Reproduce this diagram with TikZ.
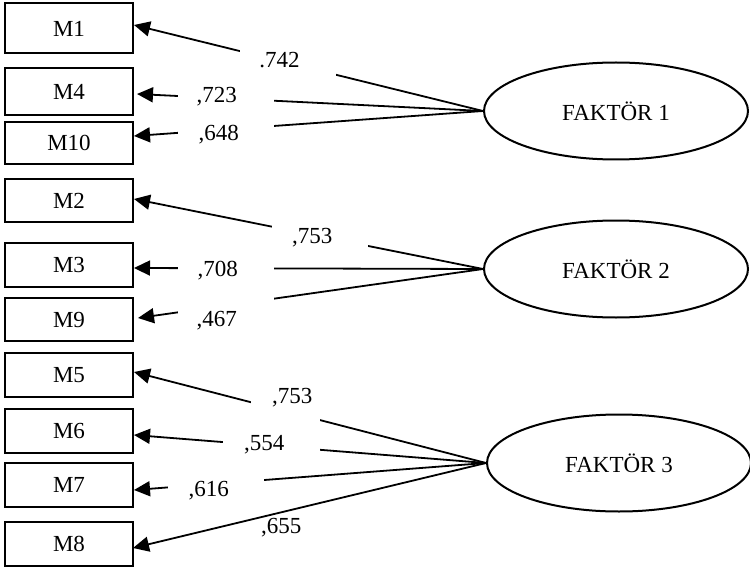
\documentclass[tikz,border=0pt]{standalone}
\usepackage{fontspec}
\setmainfont{Liberation Serif}
\usetikzlibrary{arrows.meta,shapes.geometric}
\begin{document}
\begin{tikzpicture}[x=0.5pt,y=-0.5pt,
  font=\fontsize{11.5}{13.8}\selectfont,
  box/.style={draw, line width=1pt, minimum width=64pt, minimum height=#1, inner sep=0pt},
  factor/.style={draw, ellipse, line width=1pt, minimum width=132pt, minimum height=48.5pt, inner sep=0pt},
  conn/.style={line width=0.9pt, -{Triangle[length=8pt,width=7.5pt]}},
  gap/.style={fill=white, inner sep=0pt, minimum width=#1, minimum height=13pt},
  lbl/.style={inner sep=0pt}]
\useasboundingbox (0,0) rectangle (750,567);

% indicators
\node[box=25pt]   (m1)  at (69,28.5)  {M1};
\node[box=23.5pt] (m4)  at (69,91.5)  {M4};
\node[box=21pt]   (m10) at (69,143)   {M10};
\node[box=21.5pt] (m2)  at (69,200.5) {M2};
\node[box=22pt]   (m3)  at (69,265)   {M3};
\node[box=21.5pt] (m9)  at (69,319.5) {M9};
\node[box=22pt]   (m5)  at (69,375)   {M5};
\node[box=22pt]   (m6)  at (69,431)   {M6};
\node[box=22pt]   (m7)  at (69,485)   {M7};
\node[box=22pt]   (m8)  at (69,544)   {M8};

% factors
\node[factor] (f1) at (616,111) {FAKTÖR 1};
\node[factor] (f2) at (616,269) {FAKTÖR 2};
\node[factor] (f3) at (619,463) {FAKTÖR 3};

% loadings factor 1
\draw[conn] (f1.west) -- node[gap=48pt, pos=0.56, label={[lbl, name=l1, xshift=-4pt, yshift=1.4pt]center:.742}] (g1) {} ([yshift=1.75pt]m1.east);
\draw[conn] (f1.west) -- node[gap=48pt, pos=0.7435, label={[lbl, name=l4, xshift=-4.5pt, yshift=0.7pt]center:{,723}}] (g4) {} ([xshift=1.5pt,yshift=-1.25pt]m4.east);
\draw[conn] (f1.west) -- node[gap=48pt, pos=0.737, label={[lbl, name=l10, xshift=-3.5pt, yshift=-2.8pt]center:{,648}}] (g10) {} ([yshift=3.5pt]m10.east);

% loadings factor 2
\draw[conn] (f2.west) -- node[gap=48pt, pos=0.466, label={[lbl, name=l2, xshift=-4pt, yshift=-0.8pt]center:{,753}}] (g2) {} ([yshift=0.75pt]m2.east);
\draw[conn] (f2.west) -- node[gap=48pt, pos=0.737, label={[lbl, name=l3, xshift=-4pt, yshift=-1pt]center:{,708}}] (g3) {} ([yshift=-1.5pt]m3.east);
\draw[conn] (f2.west) -- node[gap=48pt, pos=0.7457, label={[lbl, name=l9, xshift=-4.5pt, yshift=-7.7pt]center:{,467}}] (g9) {} ([xshift=2pt,yshift=0.75pt]m9.east);

% loadings factor 3
\draw[conn] (f3.west) -- node[gap=34.5pt, pos=0.569, label={[lbl, name=l5, xshift=3.25pt, yshift=7pt]center:{,753}}] (g5) {} ([yshift=1.5pt]m5.east);
\draw[conn] (f3.west) -- node[gap=48.5pt, pos=0.609, label={[lbl, name=l6, xshift=-3.75pt, yshift=0.5pt]center:{,554}}] (g6) {} ([yshift=-2pt]m6.east);
\draw[conn] (f3.west) -- node[gap=48pt, pos=0.768, label={[lbl, name=l7, xshift=-3.5pt, yshift=-3.6pt]center:{,616}}] (g7) {} ([yshift=-2.5pt]m7.east);
\draw[conn] (f3.west) -- node[lbl, pos=0.58, yshift=-7.8pt] (l8) {,655} ([xshift=-0.5pt,yshift=-2pt]m8.east);
\end{tikzpicture}
\end{document}
